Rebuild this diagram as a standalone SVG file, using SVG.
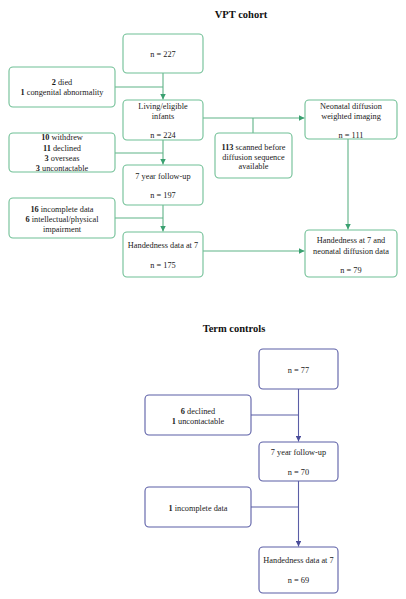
<svg xmlns="http://www.w3.org/2000/svg" width="406" height="599" viewBox="0 0 406 599">
<style>
text{font-family:"Liberation Serif","Times New Roman",serif;font-size:8.3px;fill:#1a1a1a;text-anchor:middle}
.t{font-size:10.5px;font-weight:bold;fill:#111}
.b{font-weight:bold}
.g rect{fill:#fff;stroke:#6fbf95;stroke-width:1.1}
.p rect{fill:#fff;stroke:#5b5ea6;stroke-width:1.1}
.cg{stroke:#5fb387;stroke-width:1.1;fill:none}
.cp{stroke:#5b5ea6;stroke-width:1.1;fill:none}
</style>
<defs>
<marker id="ag" viewBox="0 0 6 6" refX="6" refY="3" markerWidth="5" markerHeight="5" orient="auto"><path d="M0,0L6,3L0,6z" fill="#3aa070"/></marker>
<marker id="ap" viewBox="0 0 6 6" refX="6" refY="3" markerWidth="5" markerHeight="5" orient="auto"><path d="M0,0L6,3L0,6z" fill="#4a4d9a"/></marker>
</defs>
<text class="t" x="241" y="18">VPT cohort</text>
<text class="t" x="234" y="332">Term controls</text>
<g id="connectors">
<path class="cg" d="M163,73V99.5" marker-end="url(#ag)"/>
<path class="cg" d="M115,87H163"/>
<path class="cg" d="M163,140V164.5" marker-end="url(#ag)"/>
<path class="cg" d="M115,153H163"/>
<path class="cg" d="M163,205V231.5" marker-end="url(#ag)"/>
<path class="cg" d="M115,218H163"/>
<path class="cg" d="M203,118H304.5" marker-end="url(#ag)"/>
<path class="cg" d="M253,118V133"/>
<path class="cg" d="M348,139V229.5" marker-end="url(#ag)"/>
<path class="cg" d="M203,251H304.5" marker-end="url(#ag)"/>
<path class="cp" d="M298.5,389V441.5" marker-end="url(#ap)"/>
<path class="cp" d="M251,415H298.5"/>
<path class="cp" d="M298.5,481V546.5" marker-end="url(#ap)"/>
<path class="cp" d="M251,507H298.5"/>
</g>
<g id="n227" class="g"><rect x="123" y="34" width="80" height="39" rx="4"/><text x="163" y="57">n = 227</text></g>
<g id="died" class="g"><rect x="9" y="67" width="106" height="40" rx="4"/><text x="62" y="84.5"><tspan class="b">2</tspan> died</text><text x="62" y="94.5"><tspan class="b">1</tspan> congenital abnormality</text></g>
<g id="living" class="g"><rect x="123" y="100" width="80" height="40" rx="4"/><text x="163" y="109">Living/eligible</text><text x="163" y="119">infants</text><text x="163" y="138">n = 224</text></g>
<g id="neonatal" class="g"><rect x="305" y="100" width="92" height="39" rx="4"/><text x="351" y="109">Neonatal diffusion</text><text x="351" y="119">weighted imaging</text><text x="351" y="138">n = 111</text></g>
<g id="scanned" class="g"><rect x="215" y="133" width="77" height="45" rx="4"/><text x="253.5" y="150"><tspan class="b">113</tspan> scanned before</text><text x="253.5" y="160">diffusion sequence</text><text x="253.5" y="169">available</text></g>
<g id="withdrew" class="g"><rect x="9" y="133" width="106" height="39" rx="4"/><text x="62" y="140"><tspan class="b">10</tspan> withdrew</text><text x="62" y="150.5"><tspan class="b">11</tspan> declined</text><text x="62" y="161"><tspan class="b">3</tspan> overseas</text><text x="62" y="171"><tspan class="b">3</tspan> uncontactable</text></g>
<g id="fu7" class="g"><rect x="123" y="165" width="80" height="40" rx="4"/><text x="163" y="179">7 year follow-up</text><text x="163" y="198">n = 197</text></g>
<g id="incomplete" class="g"><rect x="9" y="198" width="106" height="40" rx="4"/><text x="62" y="212"><tspan class="b">16</tspan> incomplete data</text><text x="62" y="222"><tspan class="b">6</tspan> intellectual/physical</text><text x="62" y="232">impairment</text></g>
<g id="hand7" class="g"><rect x="123" y="232" width="80" height="45" rx="4"/><text x="163" y="248">Handedness data at 7</text><text x="163" y="268">n = 175</text></g>
<g id="handneo" class="g"><rect x="305" y="230" width="92" height="47" rx="4"/><text x="351" y="243">Handedness at 7 and</text><text x="351" y="254">neonatal diffusion data</text><text x="351" y="273">n = 79</text></g>
<g id="t77" class="p"><rect x="259" y="349" width="79" height="40" rx="4"/><text x="298.5" y="373">n = 77</text></g>
<g id="tdeclined" class="p"><rect x="145" y="395" width="106" height="40" rx="4"/><text x="198" y="414"><tspan class="b">6</tspan> declined</text><text x="198" y="424"><tspan class="b">1</tspan> uncontactable</text></g>
<g id="tfu7" class="p"><rect x="259" y="442" width="79" height="39" rx="4"/><text x="298.5" y="455">7 year follow-up</text><text x="298.5" y="475">n = 70</text></g>
<g id="tincomplete" class="p"><rect x="145" y="487" width="106" height="40" rx="4"/><text x="198" y="511"><tspan class="b">1</tspan> incomplete data</text></g>
<g id="thand7" class="p"><rect x="259" y="547" width="79" height="46" rx="4"/><text x="298.5" y="563">Handedness data at 7</text><text x="298.5" y="583">n = 69</text></g>
</svg>
